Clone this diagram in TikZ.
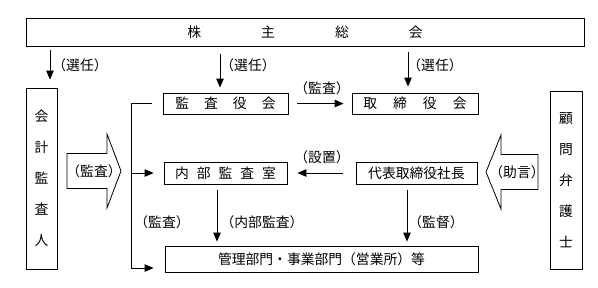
\documentclass[tikz,border=0pt]{standalone}
\usepackage{fontspec}
\setmainfont{Noto Sans CJK JP}
\usetikzlibrary{arrows.meta,calc}
\begin{document}
\begin{tikzpicture}[x=1pt,y=-1pt,
  box/.style={draw, line width=0.8pt, inner sep=0pt, font=\fontsize{13.8}{16}\selectfont},
  vbox/.style={box, align=center, font=\fontsize{13.8}{31}\selectfont},
  lbl/.style={inner sep=0pt, font=\fontsize{13.8}{16}\selectfont},
  arr/.style={line width=0.8pt, -{Triangle[length=9pt,width=7.5pt]}},
  ln/.style={line width=0.8pt}]
\useasboundingbox (0,0) rectangle (598,287);
% boxes
\node[box, minimum width=558pt, minimum height=28pt] (agm) at (305,32) {株\hspace{60pt}主\hspace{60pt}総\hspace{60pt}会};
\node[vbox, minimum width=31pt, minimum height=181pt] (kaikei) at (41.5,178.5) {会\\計\\監\\査\\人};
\node[vbox, minimum width=32pt, minimum height=178pt] (komon) at (566,180) {顧\\問\\弁\\護\\士};
\node[box, minimum width=125pt, minimum height=21pt] (kansa) at (225.5,103.5) {監\hspace{15pt}査\hspace{15pt}役\hspace{15pt}会};
\node[box, minimum width=126pt, minimum height=21pt] (tori) at (415,103.5) {取\hspace{16pt}締\hspace{16pt}役\hspace{16pt}会};
\node[box, minimum width=123pt, minimum height=22pt] (naibu) at (225.5,173) {内\hspace{8pt}部\hspace{8pt}監\hspace{8pt}査\hspace{8pt}室};
\node[box, minimum width=121pt, minimum height=22pt] (daihyo) at (416.5,173) {代表取締役社長};
\node[box, minimum width=313pt, minimum height=26pt] (kanri) at (321.5,259) {管理部門・事業部門（営業所）等};
% helper coordinates
\coordinate (xa) at (50,0);
\coordinate (xb) at (220,0);
\coordinate (xc) at (408,0);
\coordinate (xd) at (217,0);
\coordinate (xe) at (407,0);
\coordinate (xf) at (131,0);
\coordinate (yb) at (0,268);
% election arrows
\draw[arr, shorten <=4pt, shorten >=8pt] (agm.south -| xa) -- (kaikei.north -| xa);
\draw[arr, shorten <=8pt, shorten >=5pt] (agm.south -| xb) -- (kansa.north -| xb);
\draw[arr, shorten <=6pt, shorten >=6pt] (agm.south -| xc) -- (tori.north -| xc);
% horizontal arrows
\draw[arr, shorten <=9pt, shorten >=8pt] (kansa.east) -- (tori.west);
\draw[arr, shorten <=13pt, shorten >=10pt] (daihyo.west) -- (naibu.west -| naibu.east);
% downward arrows
\draw[arr, shorten <=6pt, shorten >=4pt] (naibu.south -| xd) -- (kanri.north -| xd);
\draw[arr, shorten <=6pt, shorten >=4pt] (daihyo.south -| xe) -- (kanri.north -| xe);
% bracket from kansa
\draw[ln] ($(kansa.west)+(-11,0)$) -- (kansa.west -| xf) -- (xf |- yb);
\draw[arr, shorten >=10pt] (xf |- naibu.west) -- (naibu.west);
\draw[arr, shorten >=11pt] (xf |- yb) -- (kanri.west |- yb);
% block arrows
\draw[ln] (67,153.5) -- (107,153.5) -- (107,134) -- (121,171) -- (107,208) -- (107,188.5) -- (67,188.5) -- cycle;
\draw[ln] (538,154.5) -- (501,154.5) -- (501,135) -- (486,172) -- (501,209) -- (501,189.5) -- (538,189.5) -- cycle;
% labels
\node[lbl] (l1) at (80,65) {（選任）};
\node[lbl] (l2) at (248,65) {（選任）};
\node[lbl] (l3) at (435,65) {（選任）};
\node[lbl] (l4) at (322,88) {（監査）};
\node[lbl] (l5) at (322,157) {（設置）};
\node[lbl] (l6) at (162,222) {（監査）};
\node[lbl] (l7) at (262,222) {（内部監査）};
\node[lbl] (l8) at (436,222) {（監督）};
\node[lbl] (l9) at (94,171) {（監査）};
\node[lbl] (l10) at (517,172) {（助言）};
\end{tikzpicture}
\end{document}
